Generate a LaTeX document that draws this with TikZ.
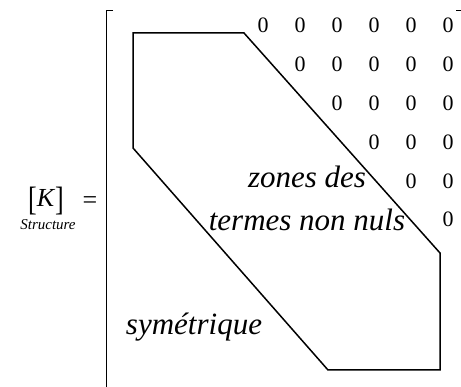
\documentclass[tikz,border=0pt]{standalone}
\usepackage{fontspec}
\setmainfont{Liberation Serif}
\begin{document}
\begin{tikzpicture}[x=1pt,y=-1pt,
  zero/.style={inner sep=0pt,anchor=base,font=\fontsize{22}{22}\selectfont},
  itext/.style={inner sep=0pt,anchor=base,font=\fontsize{31}{31}\selectfont\itshape},
  zone/.style={line width=1.5pt,line join=miter},
  brk/.style={line width=0.9pt}]
\useasboundingbox (0,0) rectangle (461,387);
% left bracket of the matrix
\coordinate (lbt) at (113,10);
\coordinate (lbc) at (106,10);
\coordinate (lbb) at (106,387);
\draw[brk] (lbt) -- (lbc) -- (lbb);
% right bracket (top tick visible only)
\coordinate (rbt) at (456,10);
\coordinate (rbc) at (461,10);
\draw[brk] (rbt) -- (rbc);
% zone polygon
\coordinate (p1) at (133,33);
\coordinate (p2) at (244,33);
\coordinate (p3) at (440,253);
\coordinate (p4) at (440,370);
\coordinate (p5) at (328,370);
\coordinate (p6) at (133,148);
\draw[zone] (p1) -- (p2) -- (p3) -- (p4) -- (p5) -- (p6) -- cycle;
% zeros
\foreach \r in {0,...,5}{
  \foreach \c in {\r,...,5}{
    \node[zero] (z\r\c) at ({263+37*\c},{33+38.8*\r}) {0};
  }
}
% texts
\node[itext] (t1) at (307,188) {zones des};
\node[itext] (t2) at (307,231) {termes non nuls};
\node[itext] (t3) at (194,335) {symétrique};
% label [K] = 
\node[inner sep=0pt,anchor=base,font=\fontsize{26}{26}\selectfont] (K) at (46,207)
  {\raisebox{-0.12em}{\scalebox{1}[1.3]{[}}\textit{K}\raisebox{-0.12em}{\scalebox{1}[1.3]{]}}};
\node[inner sep=0pt,anchor=base,font=\fontsize{15}{15}\selectfont\itshape] (S) at (48,230) {Structure};
\node[inner sep=0pt,anchor=base,font=\fontsize{26}{26}\selectfont] (eq) at (90,209) {=};
\end{tikzpicture}
\end{document}
